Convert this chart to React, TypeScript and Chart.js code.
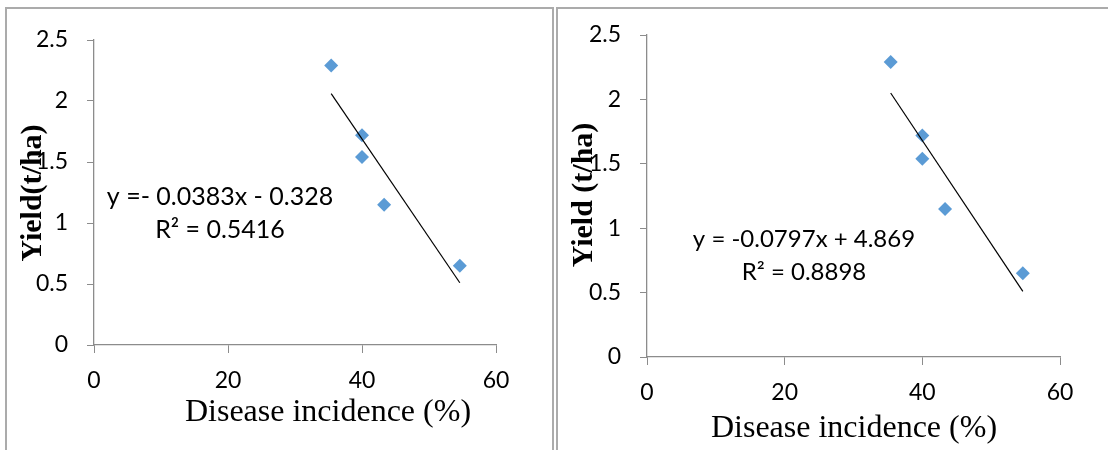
import React, { useEffect, useRef } from "react";
import { Chart, registerables } from "chart.js";

Chart.register(...registerables);

// ---- data ----
const incidence = [35.4, 40.0, 40.0, 43.3, 54.6];
const yieldValues = [2.29, 1.72, 1.54, 1.15, 0.65];
const trendX = [35.4, 54.6];
const trendYLeft = [2.06, 0.51];
const trendYRight = [2.05, 0.51];
const xTickValues = [0, 20, 40, 60];
const yTickValues = [0, 0.5, 1, 1.5, 2, 2.5];
const leftEquation = ["y =- 0.0383x - 0.328", "R\u00B2 = 0.5416"];
const rightEquation = ["y = -0.0797x + 4.869", "R\u00B2 = 0.8898"];
const xTitleText = "Disease incidence (%)";
const yTitleLeft = "Yield(t/ha)";
const yTitleRight = "Yield (t/ha)";

const AXIS_GRAY = "#8c8c8c";
const MARKER_BLUE = "#5b9bd5";

type PanelCfg = {
  trendY: number[];
  equation: string[];
  eqFont: number;
  yTitle: string;
  area: { left: number; right: number; top: number; bottom: number };
  eq: { x: number; y: number; gap: number };
  xt: { x: number; y: number };
  yt: { x: number; y: number };
};

const W = 554;
const H = 450;

const leftCfg: PanelCfg = {
  trendY: trendYLeft,
  equation: leftEquation,
  eqFont: 25,
  yTitle: yTitleLeft,
  area: { left: 94, right: 496, top: 40, bottom: 345 },
  eq: { x: 220, y: 205, gap: 33 },
  xt: { x: 328, y: 421 },
  yt: { x: 41, y: 193 },
};

const rightCfg: PanelCfg = {
  trendY: trendYRight,
  equation: rightEquation,
  eqFont: 24,
  yTitle: yTitleRight,
  area: { left: 93, right: 506, top: 35, bottom: 357 },
  eq: { x: 250, y: 247, gap: 33 },
  xt: { x: 300, y: 437 },
  yt: { x: 38, y: 195 },
};

function makeTextPlugin(cfg: PanelCfg) {
  return {
    id: "panelTexts",
    afterDraw(chart: any) {
      const ctx = chart.ctx as CanvasRenderingContext2D;
      ctx.save();
      ctx.fillStyle = "#000";
      ctx.textAlign = "center";
      ctx.textBaseline = "alphabetic";
      ctx.font = cfg.eqFont + "px Lato";
      cfg.equation.forEach((t, i) => ctx.fillText(t, cfg.eq.x, cfg.eq.y + i * cfg.eq.gap));
      ctx.font = '32px "Liberation Serif"';
      ctx.fillText(xTitleText, cfg.xt.x, cfg.xt.y);
      ctx.translate(cfg.yt.x, cfg.yt.y);
      ctx.rotate(-Math.PI / 2);
      ctx.font = 'bold 30px "Liberation Serif"';
      ctx.fillText(cfg.yTitle, 0, 0);
      ctx.restore();
    },
  };
}

function Panel({ cfg }: { cfg: PanelCfg }) {
  const ref = useRef<HTMLCanvasElement | null>(null);
  useEffect(() => {
    if (!ref.current) return;
    const a = cfg.area;
    const chart = new Chart(ref.current, {
      type: "scatter",
      data: {
        datasets: [
          {
            type: "line",
            data: trendX.map((x, i) => ({ x, y: cfg.trendY[i] })),
            borderColor: "#000",
            borderWidth: 1.2,
            pointRadius: 0,
            fill: false,
            order: 0,
          } as any,
          {
            data: incidence.map((x, i) => ({ x, y: yieldValues[i] })),
            pointStyle: "rectRot",
            pointRadius: 7,
            backgroundColor: MARKER_BLUE,
            borderColor: MARKER_BLUE,
            borderWidth: 0,
            order: 1,
          },
        ],
      },
      options: {
        responsive: false,
        animation: false,
        events: [],
        layout: { padding: { left: 0, top: a.top, right: W - a.right, bottom: 0 } },
        plugins: { legend: { display: false }, tooltip: { enabled: false } },
        scales: {
          x: {
            type: "linear",
            min: 0,
            max: 60,
            afterBuildTicks: (s: any) => {
              s.ticks = xTickValues.map((v) => ({ value: v }));
            },
            afterFit: (s: any) => {
              s.height = H - a.bottom;
            },
            grid: { drawOnChartArea: false, drawTicks: true, tickLength: 8, color: AXIS_GRAY, lineWidth: 1 },
            border: { display: true, color: AXIS_GRAY, width: 1.3 },
            ticks: {
              color: "#000",
              font: { family: "Lato", size: 23 },
              padding: 14,
              maxRotation: 0,
              callback: (v: any) => String(v),
            },
          },
          y: {
            type: "linear",
            min: 0,
            max: 2.5,
            afterBuildTicks: (s: any) => {
              s.ticks = yTickValues.map((v) => ({ value: v }));
            },
            afterFit: (s: any) => {
              s.width = a.left;
            },
            grid: { drawOnChartArea: false, drawTicks: true, tickLength: 7, color: AXIS_GRAY, lineWidth: 1 },
            border: { display: true, color: AXIS_GRAY, width: 1.3 },
            ticks: {
              color: "#000",
              font: { family: "Lato", size: 23 },
              padding: 19,
              callback: (v: any) => String(v),
            },
          },
        },
      },
      plugins: [makeTextPlugin(cfg)],
    });
    return () => chart.destroy();
  }, [cfg]);
  return <canvas ref={ref} width={W} height={H} style={{ width: W, height: H, display: "block" }} />;
}

export default function App() {
  const border = "2px solid #ababab";
  return (
    <div style={{ position: "absolute", left: 0, top: 0, width: 1108, height: 450, overflow: "hidden", background: "#fff" }}>
      <div style={{ position: "absolute", left: 5, top: 7, width: 545, height: 460, borderLeft: border, borderTop: border, borderRight: border }} />
      <div style={{ position: "absolute", left: 556, top: 7, width: 560, height: 460, borderLeft: border, borderTop: border }} />
      <div style={{ position: "absolute", left: 0, top: 0 }}>
        <Panel cfg={leftCfg} />
      </div>
      <div style={{ position: "absolute", left: W, top: 0 }}>
        <Panel cfg={rightCfg} />
      </div>
    </div>
  );
}
